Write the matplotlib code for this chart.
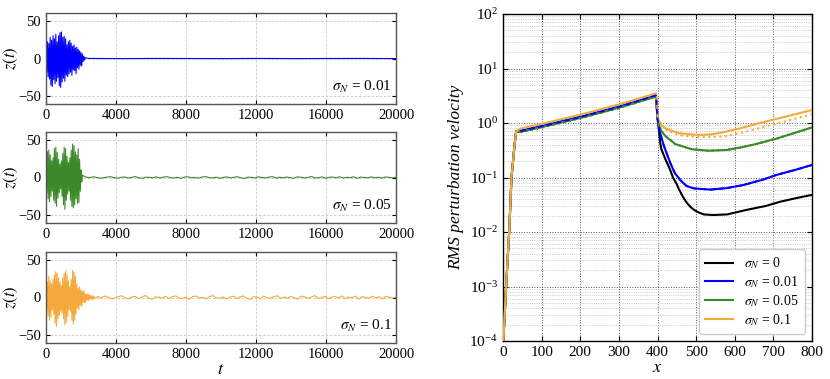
import numpy as np
import matplotlib
matplotlib.use('Agg')
import matplotlib.pyplot as plt

plt.rcParams['font.family'] = ['Liberation Serif', 'DejaVu Serif']
plt.rcParams['mathtext.fontset'] = 'stix'
plt.rcParams['axes.linewidth'] = 1.0

# ---- left: time series z(t) ----
sigmas = ['0.01', '0.05', '0.1']
burst_step = 40.0

burst_blue = [25, -18, 22, -24, 20, -27, 28, -35, 24, -37, 30, -28, 26, -33, 32, -30,
              22, -25, 30, -36, 34, -38, 35, -31, 28, -26, 29, -30, 26, -22, 18, -24,
              22, -20, 24, -18, 20, -22, 16, -15, 18, -16, 14, -20, 15, -12, 12, -14,
              10, -9, 8, -10, 6, -4, 3, -2, 1]
burst_green = [30, -20, 34, -28, 36, -32, 30, -25, 22, -18, 26, -30, 38, -34, 40, -38,
               33, -27, 24, -20, 18, -15, 22, -25, 32, -36, 40, -42, 38, -30, 28, -22,
               20, -18, 26, -30, 36, -38, 44, -40, 42, -36, 34, -28, 30, -34, 38, -33,
               24, -18, 10, -6, 3]
burst_orange = [25, -18, 20, -24, 28, -30, 22, -26, 18, -16, 24, -22, 30, -34, 34, -38,
                32, -28, 26, -24, 20, -18, 16, -20, 26, -28, 32, -36, 35, -33, 30, -25,
                22, -16, 14, -18, 24, -30, 36, -35, 33, -30, 28, -22, 18, -14, 12, -16,
                14, -10, 10, -12, 8, -6, 9, -7, 5, -6, 4, -3, 5, -4, 3, -2, 3, -2,
                2, -3, 2, -1]

tail_blue = [0.1, -0.1, 0.1, 0.0, -0.1, 0.1, -0.1, 0.0, 0.1, -0.1]
tail_green = [0.6, -0.3, 0.9, 0.2, -0.8, -0.4, 0.5, 1.1, -0.2, -0.9, 0.3, 0.7, -0.6,
              0.1, 1.3, -0.5, -1.0, 0.4, 0.2, -0.3, 0.8, -0.7, 0.5, 1.0, -0.2, -0.6,
              0.3, -1.1, 0.6, 0.9, -0.4, 0.1, -0.8, 0.7, 1.2, -0.3, -0.5, 0.4, -0.9,
              0.2, 0.8, -0.6, 0.3, 1.0, -0.4, -1.2, 0.5, 0.2, -0.7, 0.9, -0.1, -0.5,
              0.6, 1.1, -0.8, 0.3, -0.4, 0.7, -0.2, -1.0, 0.9, 0.4, -0.6, 0.1, 1.2,
              -0.5, -0.3, 0.8, -0.9, 0.2, 0.6, -0.4, 1.0, -0.7, 0.3, -0.2, 0.9, -1.1,
              0.5, 0.1, -0.6, 0.8, -0.3, 0.4, -0.8, 0.7, 0.2, -0.5, 0.3]
tail_orange = [1.2, -0.6, 1.9, 0.5, -1.7, -0.8, 1.0, 2.3, -0.4, -1.9, 0.7, 1.5, -1.2,
               0.3, 2.8, -1.0, -2.1, 0.9, 0.4, -0.7, 1.6, -1.5, 1.1, 2.1, -0.5, -1.3,
               0.6, -2.4, 1.3, 1.9, -0.9, 0.2, -1.6, 1.4, 2.5, -0.6, -1.1, 0.8, -1.9,
               0.5, 1.7, -1.3, 0.6, 2.2, -0.8, -2.5, 1.0, 0.4, -1.5, 1.8, -0.3, -1.0,
               1.3, 2.3, -1.7, 0.7, -0.9, 1.5, -0.4, -2.1, 1.9, 0.8, -1.2, 0.3, 2.6,
               -1.0, -0.6, 1.7, -1.9, 0.5, 1.3, -0.8, 2.1, -1.5, 0.6, -0.5, 1.9, -2.3,
               1.1, 0.2, -1.3, 1.7, -0.6, 0.9, -1.7, 1.5, 0.4, -1.0, 0.6]

colors = ['#0000ff', '#3b8a2a', '#f5a93b']
bursts = [burst_blue, burst_green, burst_orange]
tails = [tail_blue, tail_green, tail_orange]

# ---- right: RMS perturbation velocity ----
x_ramp = [1, 8, 16, 22, 30, 34, 45, 100, 200, 300]
v_ramp = [1e-4, 1e-3, 1e-2, 0.1, 0.4, 0.7, 0.72, 0.88, 1.3, 2.0]

x_black = [396, 400, 407, 410, 420, 433, 440, 450, 455, 466, 475, 485, 493, 502, 520,
           544, 580, 631, 680, 718, 760, 800]
v_black = [3.1, 1.3, 0.43, 0.33, 0.22, 0.137, 0.10, 0.075, 0.062, 0.044, 0.035, 0.029,
           0.026, 0.0236, 0.021, 0.0205, 0.021, 0.0255, 0.030, 0.036, 0.042, 0.048]
x_blue = [396, 400, 406, 416, 433, 445, 459, 475, 494, 537, 580, 623, 670, 709, 760, 800]
v_blue = [3.2, 1.2, 0.69, 0.39, 0.185, 0.12, 0.09, 0.07, 0.063, 0.060, 0.064, 0.073,
          0.09, 0.112, 0.14, 0.17]
x_green = [396, 400, 403, 410, 420, 446, 489, 533, 580, 619, 660, 705, 750, 800]
v_green = [3.05, 1.3, 0.92, 0.72, 0.58, 0.41, 0.33, 0.31, 0.32, 0.36, 0.42, 0.51, 0.64, 0.83]
x_orange = [396, 400, 403, 410, 420, 455, 507, 540, 576, 620, 662, 730, 800]
v_orange = [3.5, 1.4, 1.13, 0.93, 0.80, 0.65, 0.60, 0.62, 0.69, 0.82, 0.99, 1.3, 1.73]
v_orange_dot = [3.5, 1.4, 1.1, 0.9, 0.76, 0.60, 0.55, 0.55, 0.57, 0.67, 0.80, 1.07, 1.46]

fig = plt.figure(figsize=(8.3, 3.79), dpi=100)
W, H = 830.0, 379.0

def px_axes(l, t, r, b):
    return fig.add_axes([l / W, 1 - b / H, (r - l) / W, (b - t) / H])

panel_px = [(13, 104), (132, 223), (252, 343)]
for i in range(3):
    ax = px_axes(46, panel_px[i][0], 396, panel_px[i][1])
    burst = np.array(bursts[i], dtype=float)
    tail = np.array(tails[i], dtype=float)
    t_burst = np.arange(len(burst)) * burst_step
    t_tail = np.linspace(t_burst[-1] + 200, 20000, len(tail))
    t = np.concatenate([t_burst, t_tail])
    z = np.concatenate([burst, tail])
    ax.plot(t, z, color=colors[i], lw=0.8)
    ax.set_xlim(0, 20000)
    ax.set_ylim(-60, 60)
    ax.set_xticks([0, 4000, 8000, 12000, 16000, 20000])
    ax.set_yticks([-50, 0, 50])
    ax.grid(True, color='#c8c8c8', ls=(0, (3, 2)), lw=0.6)
    ax.tick_params(direction='in', labelsize=10.5, top=True, right=True, length=3)
    for s in ax.spines.values():
        s.set_color('#555555')
    ax.set_ylabel(r'$z(t)$', fontsize=12)
    ax.yaxis.set_label_coords(-0.074, 0.5)
    ax.text(0.988, 0.19, r'$\sigma_N$ = ' + sigmas[i], transform=ax.transAxes,
            ha='right', va='center', fontsize=11)
    if i == 2:
        ax.set_xlabel(r'$t$', fontsize=13, labelpad=0)

ax = px_axes(503, 14, 812, 341)
ax.set_yscale('log')
series = [
    (x_black, v_black, 'k', '0'),
    (x_blue, v_blue, colors[0], '0.01'),
    (x_green, v_green, colors[1], '0.05'),
    (x_orange, v_orange, colors[2], '0.1'),
]
for xs, vs, c, lab in series:
    scale = vs[0] / 3.2
    xx = x_ramp + xs
    vv = [v * (scale if j >= 6 else 1) for j, v in enumerate(v_ramp)] + vs
    ax.plot(xx, vv, color=c, lw=1.5, label=r'$\sigma_N$ = ' + lab, zorder=3)

# dotted companions
ax.plot(x_ramp[6:] + x_green, [v * 3.0 / 3.2 for v in v_ramp[6:]] + v_green,
        color=colors[1], lw=1.5, ls=':', zorder=4)
ax.plot(x_ramp[6:] + x_blue, [v * 3.15 / 3.2 for v in v_ramp[6:]] + v_blue,
        color=colors[0], lw=1.3, ls=(0, (3, 2)), zorder=5)
ax.plot(x_orange, v_orange_dot, color=colors[2], lw=1.5, ls=':', zorder=4)

ax.set_xlim(0, 800)
ax.set_ylim(1e-4, 1e2)
ax.set_xticks(range(0, 801, 100))
ax.grid(True, which='major', color='#555555', ls=':', lw=0.7)
ax.grid(True, which='minor', color='#bbbbbb', ls=':', lw=0.6)
ax.tick_params(which='both', direction='in', labelsize=11, top=True, right=True)
ax.tick_params(which='minor', length=0)
ax.set_xlabel(r'$x$', fontsize=13, labelpad=0)
ax.set_ylabel('RMS perturbation velocity', fontsize=12.5, style='italic', labelpad=4)
leg = ax.legend(loc='lower right', fontsize=10, handlelength=2.0, framealpha=1,
                borderpad=0.45, labelspacing=0.22, borderaxespad=0.5)
leg.get_frame().set_edgecolor('#cccccc')

fig.savefig('out.png', dpi=100)
